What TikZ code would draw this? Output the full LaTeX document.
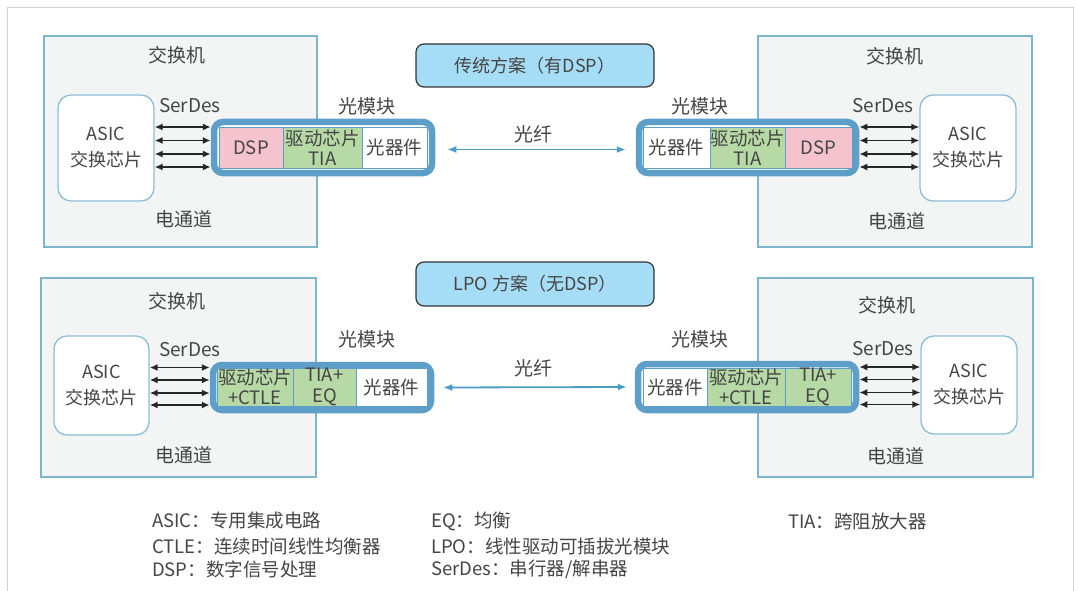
\documentclass[tikz,border=0pt]{standalone}
\usepackage{fontspec}
\setmainfont{Noto Sans CJK SC}
\usetikzlibrary{arrows.meta,calc}
\definecolor{txt}{HTML}{454545}
\definecolor{swfill}{HTML}{F3F4F4}
\definecolor{swline}{HTML}{7DB6CA}
\definecolor{asicline}{HTML}{8CC0D4}
\definecolor{modline}{HTML}{5E9FC9}
\definecolor{pinkc}{HTML}{F4C3CE}
\definecolor{greenc}{HTML}{B6D9A6}
\definecolor{titlefill}{HTML}{A6DDF6}
\definecolor{fiberc}{HTML}{4A9CC7}
\definecolor{framec}{HTML}{D3D3D3}
\tikzset{
  lbl/.style={text=txt,font=\fontsize{19}{21}\selectfont,inner sep=0pt},
  switchbox/.style={draw=swline,fill=swfill,line width=1.3pt,inner sep=0pt},
  asicbox/.style={draw=asicline,fill=white,line width=1.3pt,rounded corners=13pt,inner sep=0pt,
    align=center,text=txt,font=\fontsize{18}{26}\selectfont},
  modbox/.style={draw=modline,line width=6.5pt,rounded corners=9pt,inner sep=0pt,fill=white},
  cell/.style={draw=modline,line width=0.8pt,inner sep=0pt,align=center,text=txt,
    font=\fontsize{18.5}{20.5}\selectfont},
  titlebox/.style={draw=black!80,fill=titlefill,line width=1.2pt,rounded corners=8pt,
    inner sep=0pt,text=txt,font=\fontsize{18}{21}\selectfont},
  ser/.style={{Latex[length=8pt,width=7pt]}-{Latex[length=8pt,width=7pt]},line width=1.7pt,black!85},
  fiber/.style={{Latex[length=9pt,width=7pt]}-{Latex[length=9pt,width=7pt]},line width=1.8pt,fiberc},
  legend/.style={anchor=west,text=txt,font=\fontsize{18.5}{21}\selectfont,inner sep=0pt}
}
\begin{document}
\begin{tikzpicture}[x=1pt,y=-1pt]
\useasboundingbox (0,0) rectangle (1079,591);
\fill[white] (0,0) rectangle (1079,591);
% outer frame
\draw[framec,line width=1pt] (7,591) -- (7,8) -- (1073,8) -- (1073,591);

% ===== Top row =====
\node[titlebox,minimum width=238pt,minimum height=43pt] (t1) at (535,65.5) {传统方案（有DSP）};

% left switch
\node[switchbox,minimum width=273pt,minimum height=211pt] (sw1) at (180.5,141.5) {};
\node[asicbox,minimum width=96pt,minimum height=106pt] (asic1) at (106,148) {ASIC\\交换芯片};
\node[lbl] (sw1t) at (177,55) {交换机};
\node[lbl] (sw1s) at (190,106) {SerDes};
\node[lbl] (sw1e) at (184,219) {电通道};
\node[modbox,minimum width=218pt,minimum height=51pt] (mod1) at (323,147.5) {};
\node[cell,fill=pinkc,minimum width=64pt,minimum height=41pt] (c11) at (251,147.5) {DSP};
\node[cell,fill=greenc,minimum width=79pt,minimum height=41pt] (c12) at (322.5,147.5) {驱动芯片\\TIA};
\node[cell,fill=white,minimum width=65pt,minimum height=41pt] (c13) at (394.5,147.5) {光器件};
\node[lbl] (m1t) at (367,106) {光模块};
\foreach \d in {-20.5,-7,6.5,19.5}
  \draw[ser] ($(asic1.east |- mod1.west)+(0,\d)$) -- ($(mod1.west)+(0,\d)$);

% right switch
\node[switchbox,minimum width=274pt,minimum height=211pt] (sw2) at (895,141.5) {};
\node[asicbox,minimum width=96pt,minimum height=106pt] (asic2) at (968,148) {ASIC\\交换芯片};
\node[lbl] (sw2t) at (895,56) {交换机};
\node[lbl] (sw2s) at (883,106) {SerDes};
\node[lbl] (sw2e) at (897,221) {电通道};
\node[modbox,minimum width=217pt,minimum height=51pt] (mod2) at (747.5,147.5) {};
\node[cell,fill=white,minimum width=67pt,minimum height=41pt] (c21) at (676.5,147.5) {光器件};
\node[cell,fill=greenc,minimum width=75pt,minimum height=41pt] (c22) at (747.5,147.5) {驱动芯片\\TIA};
\node[cell,fill=pinkc,minimum width=67pt,minimum height=41pt] (c23) at (818.5,147.5) {DSP};
\node[lbl] (m2t) at (700,106) {光模块};
\foreach \d in {-20.5,-7,6.5,19.5}
  \draw[ser] ($(mod2.east)+(0,\d)$) -- ($(asic2.west |- mod2.east)+(0,\d)$);

% fiber
\draw[fiber] ($(mod1.east)+(12,2)$) -- ($(mod2.west)+(-10,2)$);
\node[lbl] (f1) at (533,134) {光纤};

% ===== Bottom row =====
\node[titlebox,minimum width=238pt,minimum height=44pt] (t2) at (535,284) {LPO 方案（无DSP）};

\node[switchbox,minimum width=275pt,minimum height=199pt] (sw3) at (178.5,377.5) {};
\node[asicbox,minimum width=95pt,minimum height=99pt] (asic3) at (101.5,385.5) {ASIC\\交换芯片};
\node[lbl] (sw3t) at (177,301) {交换机};
\node[lbl] (sw3s) at (190,350) {SerDes};
\node[lbl] (sw3e) at (184,455) {电通道};
\node[modbox,minimum width=218pt,minimum height=45pt] (mod3) at (322,387.5) {};
\node[cell,fill=greenc,minimum width=76pt,minimum height=38pt] (c31) at (255,387) {驱动芯片\\+CTLE};
\node[cell,fill=greenc,minimum width=63pt,minimum height=38pt] (c32) at (324.5,387) {TIA+\\EQ};
\node[cell,fill=white,minimum width=71pt,minimum height=38pt] (c33) at (391.5,387) {光器件};
\node[lbl] (m3t) at (367,339) {光模块};
\foreach \d in {-20,-7.5,5.5,17.5}
  \draw[ser] ($(asic3.east |- mod3.west)+(0,\d)$) -- ($(mod3.west)+(0,\d)$);

\node[switchbox,minimum width=275pt,minimum height=199pt] (sw4) at (895.5,377.5) {};
\node[asicbox,minimum width=96pt,minimum height=98pt] (asic4) at (969,385) {ASIC\\交换芯片};
\node[lbl] (sw4t) at (887,305) {交换机};
\node[lbl] (sw4s) at (883,349) {SerDes};
\node[lbl] (sw4e) at (896,456) {电通道};
\node[modbox,minimum width=218pt,minimum height=46pt] (mod4) at (747,387) {};
\node[cell,fill=white,minimum width=64pt,minimum height=38pt] (c41) at (675,387) {光器件};
\node[cell,fill=greenc,minimum width=78pt,minimum height=38pt] (c42) at (746,387) {驱动芯片\\+CTLE};
\node[cell,fill=greenc,minimum width=66pt,minimum height=38pt] (c43) at (818,387) {TIA+\\EQ};
\node[lbl] (m4t) at (700,339) {光模块};
\foreach \d in {-20,-7.5,5.5,17.5}
  \draw[ser] ($(mod4.east)+(0,\d)$) -- ($(asic4.west |- mod4.east)+(0,\d)$);

\draw[fiber] ($(mod3.east)+(9,0)$) -- ($(mod4.west)+(-8,0)$);
\node[lbl] (f2) at (533,368) {光纤};

% ===== Legend =====
\node[legend] (l1) at (152,521) {ASIC：专用集成电路};
\node[legend] (l2) at (152,546) {CTLE：连续时间线性均衡器};
\node[legend] (l3) at (152,569) {DSP：数字信号处理};
\node[legend] (l4) at (431,521) {EQ：均衡};
\node[legend] (l5) at (431,546) {LPO：线性驱动可插拔光模块};
\node[legend] (l6) at (431,569) {SerDes：串行器/解串器};
\node[legend] (l7) at (788,521) {TIA：跨阻放大器};
\end{tikzpicture}
\end{document}
